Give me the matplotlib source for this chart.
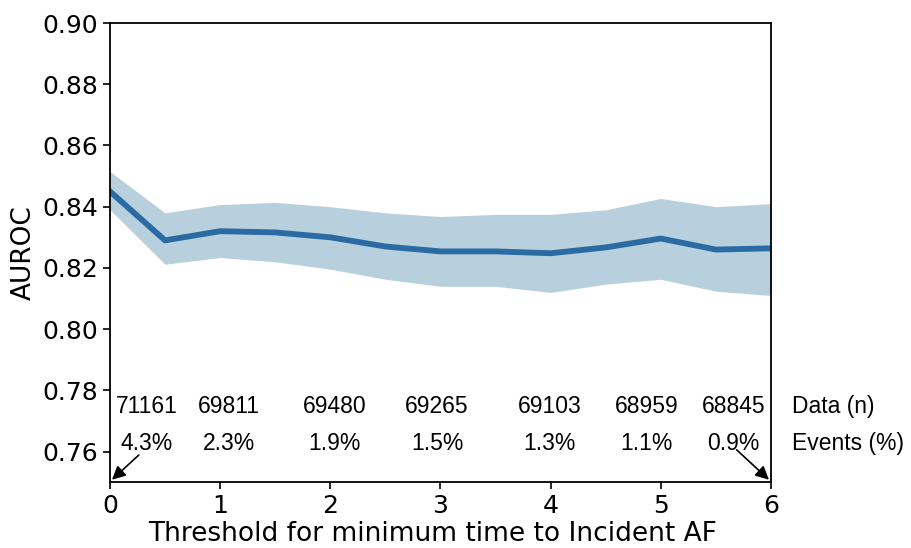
import matplotlib.pyplot as plt
from matplotlib import font_manager
import numpy as np

# threshold (years) and AUROC with CI band
thresh = [0, 0.5, 1, 1.5, 2, 2.5, 3, 3.5, 4, 4.5, 5, 5.5, 6]
auroc = [0.845, 0.829, 0.832, 0.8316, 0.830, 0.827, 0.8254, 0.8254, 0.8248, 0.8267, 0.8296, 0.826, 0.8264]
upper = [0.8515, 0.838, 0.8407, 0.8414, 0.840, 0.838, 0.8368, 0.8375, 0.8375, 0.839, 0.8427, 0.840, 0.841]
lower = [0.839, 0.8212, 0.8234, 0.822, 0.8196, 0.8163, 0.814, 0.814, 0.812, 0.8147, 0.8163, 0.8124, 0.811]

# sample size / event rate annotations
ann_x = [0.33, 1.08, 2.04, 2.97, 3.99, 4.87, 5.66]
data_n = ["71161", "69811", "69480", "69265", "69103", "68959", "68845"]
events = ["4.3%", "2.3%", "1.9%", "1.5%", "1.3%", "1.1%", "0.9%"]

# regular Liberation Sans for the annotations
fp = font_manager.FontProperties(family="Liberation Sans", size=16.5)
for f in font_manager.findSystemFonts():
    if f.endswith("LiberationSans-Regular.ttf"):
        fp = font_manager.FontProperties(fname=f, size=16.5)
        break

fig = plt.figure(figsize=(9.11, 5.48), dpi=100)
ax = fig.add_axes([0.1207, 0.120, 0.7256, 0.838])

ax.fill_between(thresh, lower, upper, color="#b8d0dd", linewidth=0)
ax.plot(thresh, auroc, color="#2b6ba3", linewidth=4.2)

ax.set_xlim(0, 6)
ax.set_ylim(0.75, 0.90)
ax.set_yticks(np.arange(0.76, 0.901, 0.02))
ax.set_yticklabels(["%.2f" % v for v in np.arange(0.76, 0.901, 0.02)])
ax.tick_params(labelsize=18, width=1.2, length=5)
ax.set_xlabel("Threshold for minimum time to Incident AF", fontsize=19)
ax.xaxis.set_label_coords(0.488, -0.084)
ax.xaxis.label.set_va("top")
ax.set_ylabel("AUROC", fontsize=19)
for s in ax.spines.values():
    s.set_linewidth(1.3)

for x, n, e in zip(ann_x, data_n, events):
    ax.text(x, 0.7748, n, ha="center", va="center", fontproperties=fp)
    ax.text(x, 0.7628, e, ha="center", va="center", fontproperties=fp)
ax.text(6.19, 0.7748, "Data (n)", ha="left", va="center", clip_on=False, fontproperties=fp)
ax.text(6.19, 0.7628, "Events (%)", ha="left", va="center", clip_on=False, fontproperties=fp)

ax.annotate("", xy=(0, 0.7502), xytext=(0.28, 0.7595),
            arrowprops=dict(arrowstyle="-|>", color="black", lw=1.2, mutation_scale=20), annotation_clip=False)
ax.annotate("", xy=(6, 0.7502), xytext=(5.67, 0.7612),
            arrowprops=dict(arrowstyle="-|>", color="black", lw=1.2, mutation_scale=20), annotation_clip=False)

fig.savefig("out.png", dpi=100)
